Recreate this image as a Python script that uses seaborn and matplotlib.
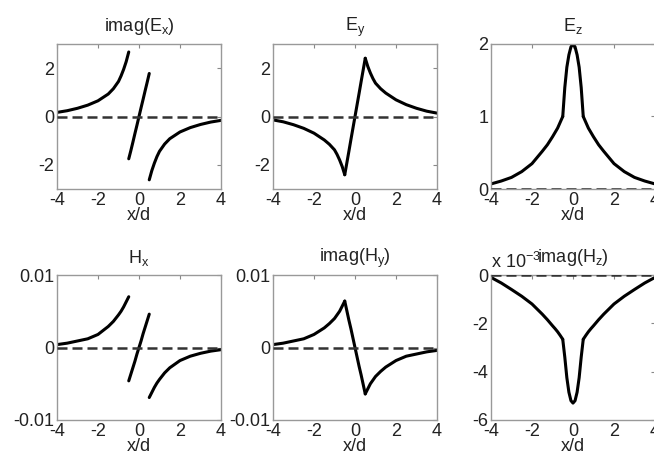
import numpy as np
import pandas as pd
import seaborn as sns
import matplotlib
matplotlib.use('Agg')
import matplotlib.pyplot as plt

# x/d sample points: left cladding, core, right cladding
x_left = [-4.0, -3.5, -3.0, -2.5, -2.0, -1.5, -1.25, -1.0, -0.875, -0.75, -0.625, -0.5]
x_core = [-0.5, -0.4, -0.3, -0.2, -0.1, 0.0, 0.1, 0.2, 0.3, 0.4, 0.5]
x_right = [0.5, 0.625, 0.75, 0.875, 1.0, 1.25, 1.5, 2.0, 2.5, 3.0, 3.5, 4.0]

# imag(Ex)
ex_left = [0.17, 0.24, 0.34, 0.47, 0.65, 0.93, 1.15, 1.45, 1.68, 1.95, 2.27, 2.67]
ex_core = [-1.75, -1.42, -1.07, -0.71, -0.36, 0.0, 0.36, 0.71, 1.07, 1.42, 1.78]
ex_right = [-2.62, -2.24, -1.93, -1.66, -1.44, -1.14, -0.92, -0.64, -0.46, -0.33, -0.23, -0.16]

# Ey
ey_left = [-0.14, -0.22, -0.34, -0.49, -0.69, -0.97, -1.15, -1.38, -1.57, -1.8, -2.07, -2.41]
ey_core = [-2.41, -1.93, -1.45, -0.96, -0.48, 0.0, 0.48, 0.96, 1.45, 1.93, 2.41]
ey_right = [2.41, 2.07, 1.8, 1.57, 1.38, 1.15, 0.97, 0.69, 0.49, 0.34, 0.22, 0.14]

# Ez
ez_left = [0.07, 0.11, 0.16, 0.24, 0.35, 0.52, 0.61, 0.72, 0.78, 0.84, 0.92, 1.0]
ez_core = [1.0, 1.4, 1.68, 1.85, 1.96, 2.0, 1.96, 1.85, 1.68, 1.4, 1.0]
ez_right = [1.0, 0.92, 0.84, 0.78, 0.72, 0.61, 0.52, 0.35, 0.24, 0.16, 0.11, 0.07]

# Hx
hx_left = [0.0004, 0.0006, 0.0009, 0.0012, 0.0018, 0.0029, 0.0036, 0.0045, 0.0050, 0.0056, 0.0063, 0.0070]
hx_core = [-0.0046, -0.0037, -0.0028, -0.0019, -0.0009, 0.0, 0.0009, 0.0019, 0.0028, 0.0037, 0.0046]
hx_right = [-0.0069, -0.0062, -0.0055, -0.0049, -0.0044, -0.0035, -0.0028, -0.0018, -0.0012, -0.0008, -0.0005, -0.0003]

# imag(Hy)
hy_left = [0.0004, 0.0006, 0.0009, 0.0012, 0.0018, 0.0027, 0.0033, 0.0040, 0.0045, 0.0050, 0.0057, 0.0064]
hy_core = [0.0064, 0.0051, 0.0038, 0.0026, 0.0013, 0.0, -0.0013, -0.0026, -0.0038, -0.0051, -0.0064]
hy_right = [-0.0064, -0.0057, -0.0050, -0.0045, -0.0040, -0.0033, -0.0027, -0.0018, -0.0012, -0.0009, -0.0006, -0.0004]

# imag(Hz), in units of 1e-3
hz_left = [-0.1, -0.33, -0.6, -0.88, -1.2, -1.62, -1.85, -2.1, -2.22, -2.35, -2.5, -2.66]
hz_core = [-2.66, -3.4, -4.25, -4.85, -5.2, -5.3, -5.2, -4.85, -4.25, -3.4, -2.66]
hz_right = [-2.66, -2.5, -2.35, -2.22, -2.1, -1.85, -1.62, -1.2, -0.88, -0.6, -0.33, -0.1]

titles = ['imag(E$_\\mathrm{x}$)', 'E$_\\mathrm{y}$', 'E$_\\mathrm{z}$',
          'H$_\\mathrm{x}$', 'imag(H$_\\mathrm{y}$)', 'imag(H$_\\mathrm{z}$)']
ylims = [(-3, 3), (-3, 3), (0, 2), (-0.01, 0.01), (-0.01, 0.01), (-6, 0)]
yticks = [[-2, 0, 2], [-2, 0, 2], [0, 1, 2], [-0.01, 0, 0.01], [-0.01, 0, 0.01], [-6, -4, -2, 0]]
ylabels = [['-2', '0', '2'], ['-2', '0', '2'], ['0', '1', '2'],
           ['-0.01', '0', '0.01'], ['-0.01', '0', '0.01'], ['-6', '-4', '-2', '0']]
xticks = [-4, -2, 0, 2, 4]
xlabels = ['-4', '-2', '0', '2', '4']


def make_df(left, core, right):
    return pd.DataFrame({
        'x': x_left + x_core + x_right,
        'y': left + core + right,
        'seg': [0] * len(x_left) + [1] * len(x_core) + [2] * len(x_right),
    })


fields = [
    (ex_left, ex_core, ex_right),
    (ey_left, ey_core, ey_right),
    (ez_left, ez_core, ez_right),
    (hx_left, hx_core, hx_right),
    (hy_left, hy_core, hy_right),
    (hz_left, hz_core, hz_right),
]

sns.set_style('white')
plt.rcParams['font.family'] = ['Liberation Sans', 'DejaVu Sans']
plt.rcParams['mathtext.fontset'] = 'custom'
plt.rcParams['mathtext.rm'] = 'Liberation Sans'
plt.rcParams['mathtext.it'] = 'Liberation Sans:italic'

fig = plt.figure(figsize=(6.54, 4.66), dpi=100)

W, H = 654, 466
lefts = [57, 273, 491]
tops = [44, 275]
aw, ah = 164, 145
fs = 13

for i, (left, core, right) in enumerate(fields):
    r, c = divmod(i, 3)
    ax = fig.add_axes([lefts[c] / W, 1 - (tops[r] + ah) / H, aw / W, ah / H])
    df = make_df(left, core, right)
    sns.lineplot(data=df, x='x', y='y', units='seg', estimator=None,
                 color='black', lw=2.2, ax=ax, legend=False)
    ax.axhline(0, color='#333333', lw=1.8, ls=(0, (4, 2)), zorder=3)
    ax.set_xlim(-4, 4)
    ax.set_ylim(*ylims[i])
    ax.set_xticks(xticks)
    ax.set_xticklabels(xlabels)
    ax.set_yticks(yticks[i])
    ax.set_yticklabels(ylabels[i])
    ax.tick_params(direction='in', length=3, width=0.8, color='#888888',
                   top=True, right=True, labelsize=fs, pad=2, labelcolor='#222222')
    for s in ax.spines.values():
        s.set_color('#999999')
        s.set_linewidth(1.0)
    ax.set_title(titles[i], fontsize=fs, pad=9, color='#222222')
    ax.set_xlabel('x/d', fontsize=fs, labelpad=-1, color='#222222')
    ax.set_ylabel('')
    if i == 5:
        ax.text(0.0, 1.02, 'x 10$^{-3}$', transform=ax.transAxes,
                fontsize=fs, ha='left', va='bottom', color='#222222')

fig.savefig('out.png', dpi=100)
